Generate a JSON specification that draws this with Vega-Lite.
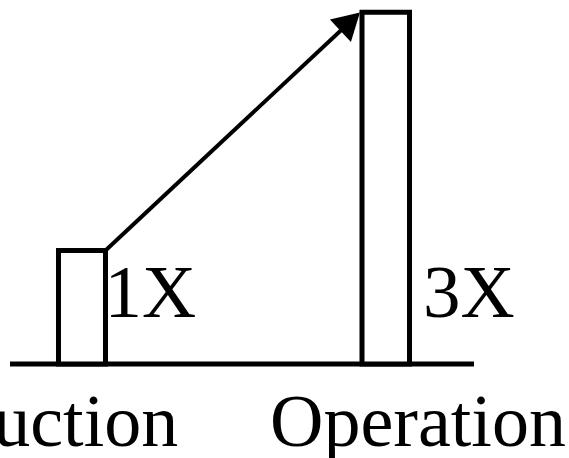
{
  "$schema": "https://vega.github.io/schema/vega-lite/v6.json",
  "width": 569,
  "height": 458,
  "autosize": {"type": "none"},
  "padding": 0,
  "background": "white",
  "config": {"view": {"stroke": null}},
  "datasets": {
    "bars": [
      {"stage": "Construction", "x": 10.28, "x2": 18.54, "base": 0, "value": 1, "label": "1X", "lx": 18.37, "ly": 0.414, "sx": -2.28, "sy": -0.722},
      {"stage": "Operation", "x": 63.62, "x2": 71.97, "base": 0, "value": 3.1, "label": "3X", "lx": 74.34, "ly": 0.414, "sx": 73.46, "sy": -0.722}
    ],
    "axisline": [{"x": 1.76, "x2": 83.3, "y": 0}],
    "arrow": [{"x": 18.54, "y": 1.0, "x2": 61.54, "y2": 3.016}]
  },
  "layer": [
    {
      "data": {"name": "axisline"},
      "mark": {"type": "rule", "stroke": "black", "strokeWidth": 5},
      "encoding": {
        "x": {"field": "x", "type": "quantitative", "scale": {"domain": [0, 100]}, "axis": null},
        "x2": {"field": "x2"},
        "y": {"field": "y", "type": "quantitative", "scale": {"domain": [-0.828, 3.207]}, "axis": null}
      }
    },
    {
      "data": {"name": "bars"},
      "mark": {"type": "rect", "fill": "white", "stroke": "black", "strokeWidth": 5},
      "encoding": {
        "x": {"field": "x", "type": "quantitative", "scale": {"domain": [0, 100]}, "axis": null},
        "x2": {"field": "x2"},
        "y": {"field": "value", "type": "quantitative", "scale": {"domain": [-0.828, 3.207]}, "axis": null},
        "y2": {"field": "base"}
      }
    },
    {
      "data": {"name": "arrow"},
      "mark": {"type": "rule", "stroke": "black", "strokeWidth": 4},
      "encoding": {
        "x": {"field": "x", "type": "quantitative", "scale": {"domain": [0, 100]}, "axis": null},
        "x2": {"field": "x2"},
        "y": {"field": "y", "type": "quantitative", "scale": {"domain": [-0.828, 3.207]}, "axis": null},
        "y2": {"field": "y2"}
      }
    },
    {
      "data": {"name": "arrow"},
      "mark": {"type": "point", "shape": "triangle-up", "filled": true, "fill": "black", "opacity": 1, "size": 950, "angle": 47},
      "encoding": {
        "x": {"field": "x2", "type": "quantitative", "scale": {"domain": [0, 100]}, "axis": null},
        "y": {"field": "y2", "type": "quantitative", "scale": {"domain": [-0.828, 3.207]}, "axis": null}
      }
    },
    {
      "data": {"name": "bars"},
      "mark": {"type": "text", "font": "Times New Roman, Liberation Serif, serif", "fontSize": 75, "align": "left", "baseline": "alphabetic", "color": "black"},
      "encoding": {
        "x": {"field": "lx", "type": "quantitative", "scale": {"domain": [0, 100]}, "axis": null},
        "y": {"field": "ly", "type": "quantitative", "scale": {"domain": [-0.828, 3.207]}, "axis": null},
        "text": {"field": "label"}
      }
    },
    {
      "data": {"name": "bars"},
      "mark": {"type": "text", "font": "Times New Roman, Liberation Serif, serif", "fontSize": 74, "align": "center", "baseline": "alphabetic", "color": "black"},
      "encoding": {
        "x": {"field": "sx", "type": "quantitative", "scale": {"domain": [0, 100]}, "axis": null},
        "y": {"field": "sy", "type": "quantitative", "scale": {"domain": [-0.828, 3.207]}, "axis": null},
        "text": {"field": "stage"}
      }
    }
  ]
}
